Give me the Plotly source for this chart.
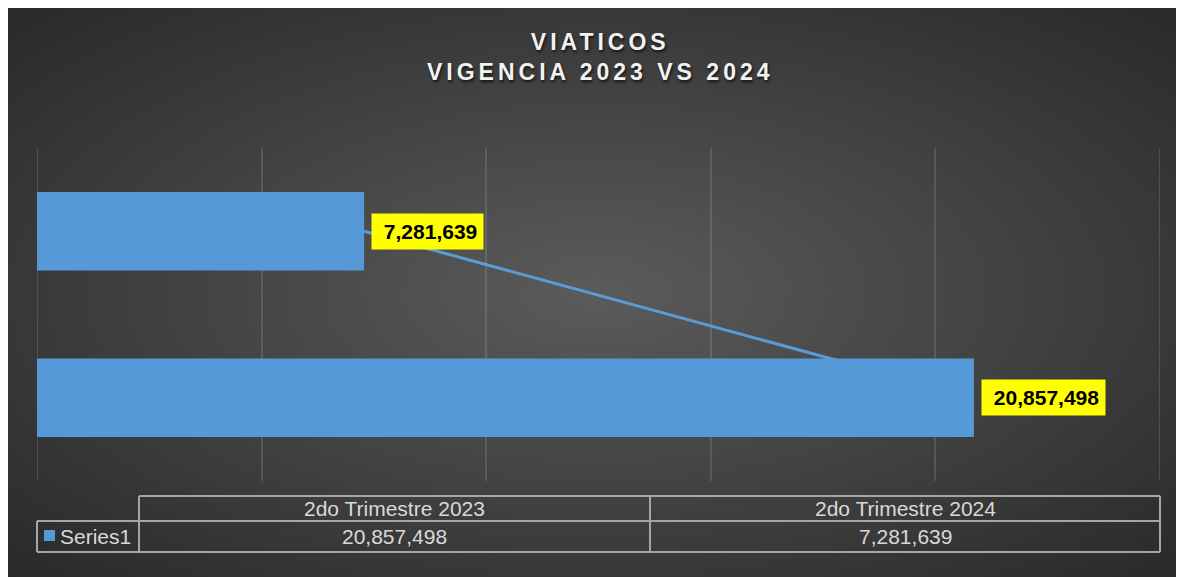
import base64
import plotly.graph_objects as go

# ---- data ----
categories = ["2do Trimestre 2023", "2do Trimestre 2024"]
values = [20857498, 7281639]
series_name = "Series1"
title_lines = ["VIATICOS", "VIGENCIA 2023 VS 2024"]
x_ticks = [0, 5000000, 10000000, 15000000, 20000000, 25000000]

# the page body adds an 8px offset; the figure is sized to fit the window
OFF = 8
W, H = 1184 - OFF, 577 - OFF
BAR_COLOR = "#5699d8"
LINE_COLOR = "#5b9bd5"
GRID = "rgba(255,255,255,0.12)"
TABLE_LINE = "#a6a6a6"
TABLE_TEXT = "#d9d9d9"


def px(x):
    return (x - OFF) / W


def py(y):
    return 1 - (y - OFF) / H


fmt = lambda v: f"{v:,.0f}"

# background radial gradient as an SVG image
svg = (
    '<svg xmlns="http://www.w3.org/2000/svg" width="1176" height="569">'
    '<defs><radialGradient id="g" cx="50%" cy="50%" r="75%">'
    '<stop offset="0%" stop-color="#5b5b5b"/>'
    '<stop offset="100%" stop-color="#262626"/>'
    '</radialGradient></defs>'
    '<rect width="1176" height="569" fill="url(#g)"/></svg>'
)
bg_src = "data:image/svg+xml;base64," + base64.b64encode(svg.encode()).decode()

fig = go.Figure()

fig.add_trace(go.Bar(
    y=categories, x=values, orientation="h",
    marker=dict(color=BAR_COLOR, line=dict(width=0)),
    name=series_name, showlegend=False, hoverinfo="x+y",
))
fig.add_trace(go.Scatter(
    y=categories, x=values, mode="lines",
    line=dict(color=LINE_COLOR, width=3),
    showlegend=False, hoverinfo="skip",
))

annotations = []
# data labels
for c, v in zip(categories, values):
    annotations.append(dict(
        x=v, y=c, xref="x", yref="y", xanchor="left", yanchor="middle",
        xshift=7, yshift=0,
        text="\u00a0" + fmt(v), showarrow=False,
        font=dict(family="Liberation Sans, Arial", size=21, color="#000000", weight="bold"),
        bgcolor="#ffff00", borderpad=6,
    ))

# title
title_html = "<br>".join(
    f'<span style="letter-spacing:4px">{t}</span>' for t in title_lines
)
annotations.append(dict(
    x=px(600), y=py(27), xref="paper", yref="paper", xanchor="center", yanchor="top",
    text=title_html, showarrow=False, align="center",
    font=dict(family="Liberation Sans, Arial", size=23, color="#f2f2f2", weight="bold",
              shadow="1px 2px 3px rgba(0,0,0,0.7)"),
))

shapes = []
# gridlines at the axis ends (plotly drops those that sit on the plot edge)
for tv in (x_ticks[0], x_ticks[-1]):
    shapes.append(dict(type="line", xref="x", yref="y domain", x0=tv, x1=tv, y0=0, y1=1,
                       line=dict(color=GRID, width=2), layer="below"))

# data table
t_top, t_mid, t_bot = 496, 521, 552
col_x = [139, 650, 1160]
leg_left = 37
line_style = dict(color=TABLE_LINE, width=2)
shapes.append(dict(type="line", xref="paper", yref="paper", x0=px(col_x[0]), x1=px(col_x[-1]),
                   y0=py(t_top), y1=py(t_top), line=line_style))
shapes.append(dict(type="line", xref="paper", yref="paper", x0=px(leg_left), x1=px(col_x[-1]),
                   y0=py(t_mid), y1=py(t_mid), line=line_style))
shapes.append(dict(type="line", xref="paper", yref="paper", x0=px(leg_left), x1=px(col_x[-1]),
                   y0=py(t_bot), y1=py(t_bot), line=line_style))
for cx in col_x:
    shapes.append(dict(type="line", xref="paper", yref="paper", x0=px(cx), x1=px(cx),
                       y0=py(t_top), y1=py(t_bot), line=line_style))
shapes.append(dict(type="line", xref="paper", yref="paper", x0=px(leg_left), x1=px(leg_left),
                   y0=py(t_mid), y1=py(t_bot), line=line_style))
# legend key
shapes.append(dict(type="rect", xref="paper", yref="paper", x0=px(44), x1=px(55),
                   y0=py(541), y1=py(530), fillcolor=BAR_COLOR, line=dict(width=0)))

tfont = dict(family="Liberation Sans, Arial", size=21, color=TABLE_TEXT)
for i, (c, v) in enumerate(zip(categories, values)):
    xc = (col_x[i] + col_x[i + 1]) / 2
    annotations.append(dict(x=px(xc), y=py((t_top + t_mid) / 2), xref="paper", yref="paper",
                            text=c, showarrow=False, font=tfont, xanchor="center", yanchor="middle"))
    annotations.append(dict(x=px(xc), y=py((t_mid + t_bot) / 2), xref="paper", yref="paper",
                            text=fmt(v), showarrow=False, font=tfont, xanchor="center", yanchor="middle"))
annotations.append(dict(x=px(58), y=py((t_mid + t_bot) / 2), xref="paper", yref="paper",
                        text=series_name, showarrow=False, font=tfont, xanchor="left", yanchor="middle"))

fig.update_layout(
    width=W, height=H,
    margin=dict(l=0, r=0, t=0, b=0),
    paper_bgcolor="#262626",
    plot_bgcolor="rgba(0,0,0,0)",
    bargap=0.53,
    showlegend=False,
    images=[dict(source=bg_src, xref="paper", yref="paper", x=0, y=1,
                 sizex=1, sizey=1, sizing="stretch",
                 xanchor="left", yanchor="top", layer="below")],
    xaxis=dict(domain=[px(37), px(1160)], range=[0, 25000000], tickvals=x_ticks,
               showticklabels=False, showgrid=True, gridcolor=GRID, gridwidth=2,
               zeroline=False, showline=False, fixedrange=True),
    yaxis=dict(domain=[py(481), py(148)], showticklabels=False, showgrid=False,
               zeroline=False, showline=False, categoryorder="array",
               categoryarray=categories),
    shapes=shapes,
    annotations=annotations,
)

fig.write_html("out.html")
